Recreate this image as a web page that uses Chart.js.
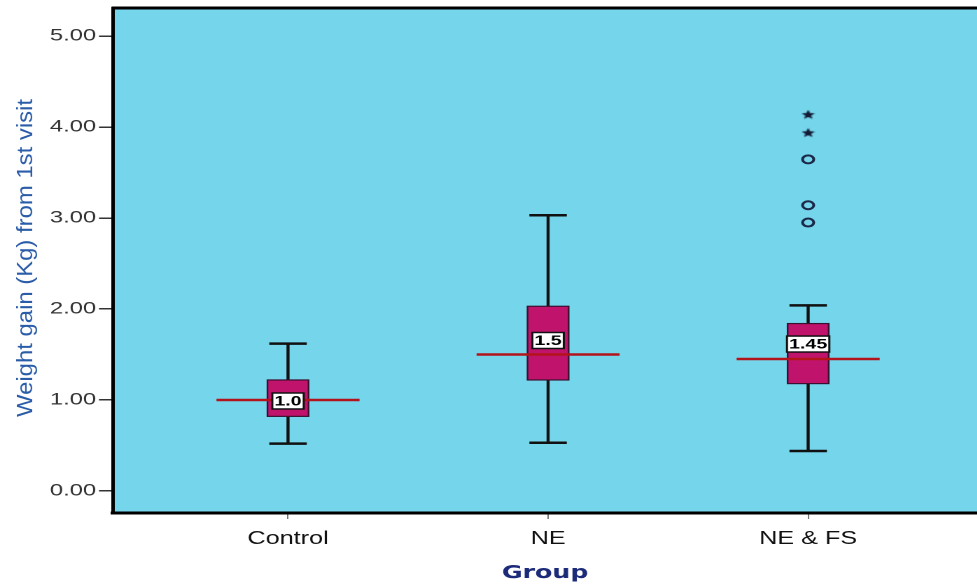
<!DOCTYPE html>
<html>
<head>
<meta charset="utf-8">
<script src="https://cdn.jsdelivr.net/npm/chart.js@4"></script>
<style>
  html, body { margin: 0; padding: 0; background: #fff; overflow: hidden; }
  /* chart is drawn narrow and widened, like the exported SPSS graph */
  #wrap { width: 698px; height: 588px; transform: scaleX(1.4); transform-origin: 0 0; }
</style>
</head>
<body>
<div id="wrap"><canvas id="boxChart"></canvas></div>
<script>
// groups on the x axis
var groups = ['Control', 'NE', 'NE & FS'];
// box plot summary per group (Kg)
var whiskerLow = [0.52, 0.53, 0.44];
var q1 = [0.82, 1.22, 1.18];
var medians = [1.0, 1.5, 1.45];
var q3 = [1.22, 2.03, 1.84];
var whiskerHigh = [1.62, 3.03, 2.04];
var medianLabels = ['1.0', '1.5', '1.45'];
// outliers of NE & FS group
var outlierCircles = [2.95, 3.14, 3.645];
var extremeStars = [3.94, 4.14];
var yTicks = [0, 1, 2, 3, 4, 5];

var boxHalf = 0.079, capHalf = 0.072, lineHalf = 0.275;
var labelShift = [1, -14, -15];

// small filled star used for extreme values
function starImage(size, color) {
    var c = document.createElement('canvas');
    c.width = size; c.height = size;
    var g = c.getContext('2d');
    var r = size / 2, ri = r * 0.45;
    g.beginPath();
    for (var k = 0; k < 10; k++) {
        var rad = k % 2 === 0 ? r : ri;
        var ang = -Math.PI / 2 + k * Math.PI / 5;
        g.lineTo(r + rad * Math.cos(ang), r + 0.5 + rad * Math.sin(ang));
    }
    g.closePath();
    g.fillStyle = color;
    g.fill();
    return c;
}

var boxPlot = {
    id: 'boxPlot',
    beforeDraw: function(chart) {
        var ctx = chart.ctx, a = chart.chartArea;
        ctx.save();
        ctx.fillStyle = '#75d5eb';
        ctx.fillRect(a.left, a.top, a.right - a.left, a.bottom - a.top);
        ctx.restore();
    },
    beforeDatasetsDraw: function(chart) {
        var ctx = chart.ctx, x = chart.scales.x, y = chart.scales.y;
        ctx.save();
        groups.forEach(function(g, i) {
            var cx = x.getPixelForValue(i);
            var bw = x.getPixelForValue(i + boxHalf) - cx;
            var cw = x.getPixelForValue(i + capHalf) - cx;
            var lw = x.getPixelForValue(i + lineHalf) - cx;

            // whiskers
            ctx.strokeStyle = '#111';
            ctx.lineWidth = 2.2;
            ctx.beginPath();
            ctx.moveTo(cx, y.getPixelForValue(whiskerLow[i]));
            ctx.lineTo(cx, y.getPixelForValue(q1[i]));
            ctx.moveTo(cx, y.getPixelForValue(q3[i]));
            ctx.lineTo(cx, y.getPixelForValue(whiskerHigh[i]));
            ctx.stroke();
            ctx.lineWidth = 2.5;
            ctx.beginPath();
            [whiskerLow[i], whiskerHigh[i]].forEach(function(v) {
                var py = y.getPixelForValue(v);
                ctx.moveTo(cx - cw, py);
                ctx.lineTo(cx + cw, py);
            });
            ctx.stroke();

            // box
            var top = y.getPixelForValue(q3[i]), bot = y.getPixelForValue(q1[i]);
            ctx.fillStyle = '#c0136b';
            ctx.fillRect(cx - bw, top, bw * 2, bot - top);
            ctx.strokeStyle = '#3a1030';
            ctx.lineWidth = 1.2;
            ctx.strokeRect(cx - bw, top, bw * 2, bot - top);

            // median line
            var my = y.getPixelForValue(medians[i]);
            ctx.strokeStyle = '#b3141c';
            ctx.lineWidth = 2.5;
            ctx.beginPath();
            ctx.moveTo(cx - lw, my);
            ctx.lineTo(cx + lw, my);
            ctx.stroke();

            // median label
            ctx.font = 'bold 14px "Liberation Sans", Arial, sans-serif';
            var tw = ctx.measureText(medianLabels[i]).width + 3;
            var ly = my + labelShift[i];
            ctx.fillStyle = '#fff';
            ctx.fillRect(cx - tw / 2, ly - 8, tw, 16);
            ctx.strokeStyle = '#111';
            ctx.lineWidth = 1.5;
            ctx.strokeRect(cx - tw / 2, ly - 8, tw, 16);
            ctx.fillStyle = '#000';
            ctx.textAlign = 'center';
            ctx.textBaseline = 'middle';
            ctx.fillText(medianLabels[i], cx, ly + 0.5);
        });
        ctx.restore();
    },
    afterDraw: function(chart) {
        var ctx = chart.ctx, a = chart.chartArea;
        ctx.save();
        // frame top edge
        ctx.strokeStyle = '#000';
        ctx.lineWidth = 3;
        ctx.beginPath();
        ctx.moveTo(a.left - 1, a.top);
        ctx.lineTo(a.right, a.top);
        ctx.stroke();

        // y axis title
        var text = 'Weight gain (Kg) from 1st visit';
        ctx.font = '16px "Liberation Sans", Arial, sans-serif';
        var w = ctx.measureText(text).width;
        ctx.translate(18.5, 258);
        ctx.rotate(-Math.PI / 2);
        ctx.scale(318 / w, 1);
        ctx.fillStyle = '#2a5ca8';
        ctx.textAlign = 'center';
        ctx.textBaseline = 'middle';
        ctx.fillText(text, 0, 0);
        ctx.restore();
    }
};

var ctx = document.getElementById('boxChart').getContext('2d');
var boxChart = new Chart(ctx, {
    type: 'scatter',
    data: {
        datasets: [{
            label: 'Outliers',
            data: outlierCircles.map(function(v) { return {x: 2, y: v}; }),
            pointStyle: 'circle',
            pointRadius: 4,
            borderWidth: 2,
            borderColor: '#1b2848',
            backgroundColor: 'rgba(0,0,0,0)'
        }, {
            label: 'Extremes',
            data: extremeStars.map(function(v) { return {x: 2, y: v}; }),
            pointStyle: starImage(10, '#151a35'),
            pointRadius: 5
        }]
    },
    options: {
        responsive: true,
        maintainAspectRatio: false,
        devicePixelRatio: 2,
        animation: false,
        layout: { autoPadding: false, padding: { top: 8, left: 0, right: 0, bottom: 0 } },
        plugins: { legend: { display: false }, tooltip: { enabled: false } },
        scales: {
            x: {
                type: 'linear',
                min: -0.673,
                max: 2.65,
                afterBuildTicks: function(s) {
                    s.ticks = groups.map(function(g, i) { return {value: i}; });
                },
                afterFit: function(s) { s.height = 75; s.paddingLeft = 0; s.paddingRight = 0; },
                ticks: {
                    callback: function(v) { return groups[v]; },
                    color: '#111',
                    font: { family: '"Liberation Sans", Arial, sans-serif', size: 18 },
                    padding: 9,
                    maxRotation: 0
                },
                grid: { drawOnChartArea: false, tickLength: 6, color: '#777', lineWidth: 1 },
                border: { color: '#000', width: 3 },
                title: {
                    display: true,
                    text: 'Group',
                    color: '#1c2a7a',
                    font: { family: '"DejaVu Sans", Verdana, sans-serif', size: 18, weight: 'bold' },
                    padding: { top: 0, bottom: 4 }
                }
            },
            y: {
                min: -0.242,
                max: 5.308,
                afterBuildTicks: function(s) {
                    s.ticks = yTicks.map(function(v) { return {value: v}; });
                },
                afterFit: function(s) { s.width = 80.7; s.paddingTop = 0; s.paddingBottom = 0; },
                ticks: {
                    callback: function(v) { return v.toFixed(2); },
                    color: '#333',
                    font: { family: '"Liberation Sans", Arial, sans-serif', size: 17 },
                    padding: 2
                },
                grid: { drawOnChartArea: false, tickLength: 10, color: '#333', lineWidth: 1.5 },
                border: { color: '#000', width: 2.5 }
            }
        }
    },
    plugins: [boxPlot]
});
</script>
</body>
</html>
